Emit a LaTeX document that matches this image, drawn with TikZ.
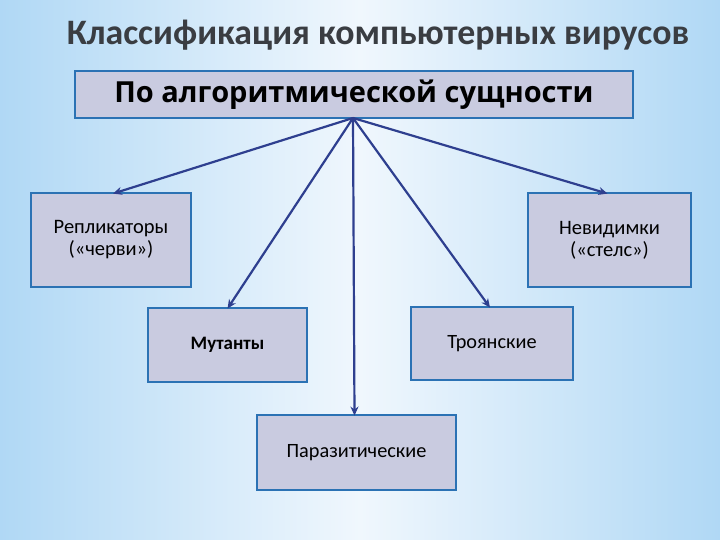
\documentclass[tikz,border=0pt]{standalone}
\usepackage{fontspec}
\setmainfont{Carlito}
\newfontfamily\widefont{Open Sans}
\usetikzlibrary{arrows.meta}
\definecolor{boxfill}{HTML}{C9CBE0}
\definecolor{boxline}{HTML}{2B72B4}
\definecolor{arrowc}{HTML}{2E3F8F}
\definecolor{bgedge}{HTML}{B0D8F5}
\definecolor{bgmid}{HTML}{F0F7FD}
\definecolor{titlec}{HTML}{3A3D42}
\tikzset{
  catbox/.style={draw=boxline, line width=2.8pt, fill=boxfill, inner sep=0pt, align=center, text=black},
  conn/.style={draw=arrowc, line width=2.2pt, -{Stealth[length=9pt,width=8pt]}}
}
\begin{document}
\begin{tikzpicture}[x=1pt,y=-1pt]
\useasboundingbox (0,0) rectangle (720,540);
\shade[left color=bgedge, right color=bgedge, middle color=bgmid, shading angle=90] (0,0) rectangle (720,540);
\node[font=\bfseries\fontsize{35.8}{38}\selectfont, text=titlec] (title) at (378,35) {Классификация компьютерных вирусов};
\node[catbox, minimum width=558pt, minimum height=47pt, font=\widefont\bfseries\fontsize{29}{30}\selectfont] (top) at (354,94.5) {По алгоритмической сущности};
\node[catbox, minimum width=160pt, minimum height=94pt, font=\fontsize{20.5}{22}\selectfont] (rep) at (111,240) {Репликаторы\\(«черви»)};
\node[catbox, minimum width=163pt, minimum height=94pt, font=\fontsize{20.5}{22}\selectfont] (nev) at (609.5,240) {Невидимки\\(«стелс»)};
\node[catbox, minimum width=159pt, minimum height=74pt, font=\bfseries\fontsize{19}{22}\selectfont] (mut) at (227.5,345) {Мутанты};
\node[catbox, minimum width=162pt, minimum height=73pt, font=\fontsize{20.3}{22}\selectfont] (tro) at (492,343.5) {Троянские};
\node[catbox, minimum width=199pt, minimum height=75pt, font=\fontsize{20.3}{22}\selectfont] (par) at (356.5,452.5) {Паразитические};
\coordinate (src) at (353,118);
\draw[conn] (src) -- ([xshift=2pt,yshift=-2pt]rep.north);
\draw[conn] (src) -- ([xshift=-2pt,yshift=-2pt]nev.north);
\draw[conn] (src) -- ([yshift=-2pt]mut.north);
\draw[conn] (src) -- ([xshift=-2pt,yshift=-2pt]tro.north);
\draw[conn] (src) -- ([xshift=-2pt,yshift=-2pt]par.north);
\end{tikzpicture}
\end{document}
